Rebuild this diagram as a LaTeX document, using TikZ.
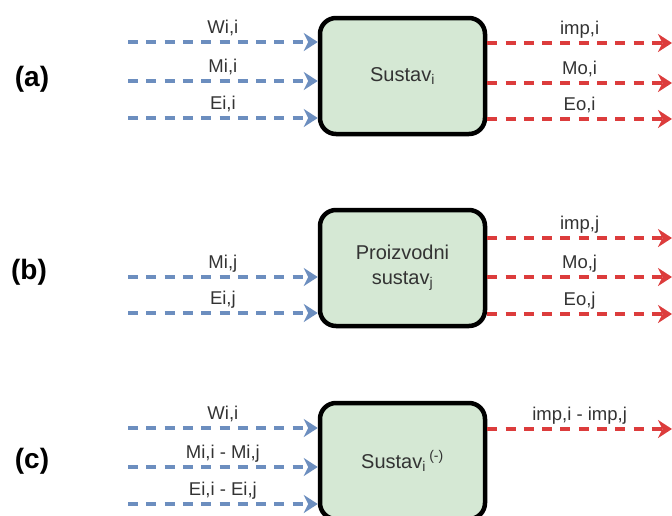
\documentclass[tikz,border=0pt]{standalone}
\usepackage{fontspec}
\setmainfont{Liberation Sans}
\usetikzlibrary{arrows.meta}
\definecolor{inblue}{HTML}{6C8EBF}
\definecolor{outred}{HTML}{DC3C3C}
\definecolor{boxfill}{HTML}{D5E8D4}
\definecolor{txt}{HTML}{333333}
\tikzset{
  sysbox/.style={draw=black, line width=4.5pt, fill=boxfill, rounded corners=16pt,
    minimum width=165pt, minimum height=116pt, align=center, text=txt,
    font=\fontsize{20}{25}\selectfont, inner sep=0pt},
  flow/.style={line width=3.2pt, dash pattern=on 10pt off 8.3pt,
    -{Stealth[length=14pt,width=18pt,inset=4.5pt]}},
  bluearr/.style={flow, draw=inblue, color=inblue},
  redarr/.style={flow, draw=outred, color=outred},
  flowlab/.style={midway, above=4.5pt, inner sep=0pt, text=txt,
    font=\fontsize{18.5}{22}\selectfont, text height=0.75em, text depth=0.25em},
  partlab/.style={font=\bfseries\fontsize{28}{32}\selectfont, text=black, inner sep=0pt}
}
\begin{document}
\begin{tikzpicture}[x=1pt,y=-1pt]
\useasboundingbox (0,0) rectangle (672,515);
\clip (0,0) rectangle (672,515);
% boxes
\node[sysbox] (A) at (402.5,76) {Sustav\textsubscript{i}};
\node[sysbox] (B) at (402.5,268) {Proizvodni\\sustav\textsubscript{j}};
\node[sysbox] (C) at (402.5,461) {Sustav\textsubscript{i}\,\textsuperscript{(-)}};
% part labels
\node[partlab] (la) at (32,79) {(a)};
\node[partlab] (lb) at (29,272) {(b)};
\node[partlab] (lc) at (32,461) {(c)};
% free ends
\coordinate (a1) at (128,42);
\coordinate (a2) at (128,81);
\coordinate (a3) at (128,118);
\coordinate (ao1) at (672,43);
\coordinate (ao2) at (672,83);
\coordinate (ao3) at (672,119);
\coordinate (b1) at (128,277);
\coordinate (b2) at (128,313);
\coordinate (bo1) at (672,238);
\coordinate (bo2) at (672,277);
\coordinate (bo3) at (672,314);
\coordinate (c1) at (128,428);
\coordinate (c2) at (128,467);
\coordinate (c3) at (128,504);
\coordinate (co1) at (672,429);
% (a)
\draw[bluearr] (a1) -- (a1 -| A.west) node[flowlab] {Wi,i};
\draw[bluearr] (a2) -- (a2 -| A.west) node[flowlab] {Mi,i};
\draw[bluearr] (a3) -- (a3 -| A.west) node[flowlab] {Ei,i};
\draw[redarr] (ao1 -| A.east) -- (ao1) node[flowlab] {imp,i};
\draw[redarr] (ao2 -| A.east) -- (ao2) node[flowlab] {Mo,i};
\draw[redarr] (ao3 -| A.east) -- (ao3) node[flowlab] {Eo,i};
% (b)
\draw[bluearr] (b1) -- (b1 -| B.west) node[flowlab] {Mi,j};
\draw[bluearr] (b2) -- (b2 -| B.west) node[flowlab] {Ei,j};
\draw[redarr] (bo1 -| B.east) -- (bo1) node[flowlab] {imp,j};
\draw[redarr] (bo2 -| B.east) -- (bo2) node[flowlab] {Mo,j};
\draw[redarr] (bo3 -| B.east) -- (bo3) node[flowlab] {Eo,j};
% (c)
\draw[bluearr] (c1) -- (c1 -| C.west) node[flowlab] {Wi,i};
\draw[bluearr] (c2) -- (c2 -| C.west) node[flowlab] {Mi,i - Mi,j};
\draw[bluearr] (c3) -- (c3 -| C.west) node[flowlab] {Ei,i - Ei,j};
\draw[redarr] (co1 -| C.east) -- (co1) node[flowlab] {imp,i - imp,j};
\end{tikzpicture}
\end{document}
